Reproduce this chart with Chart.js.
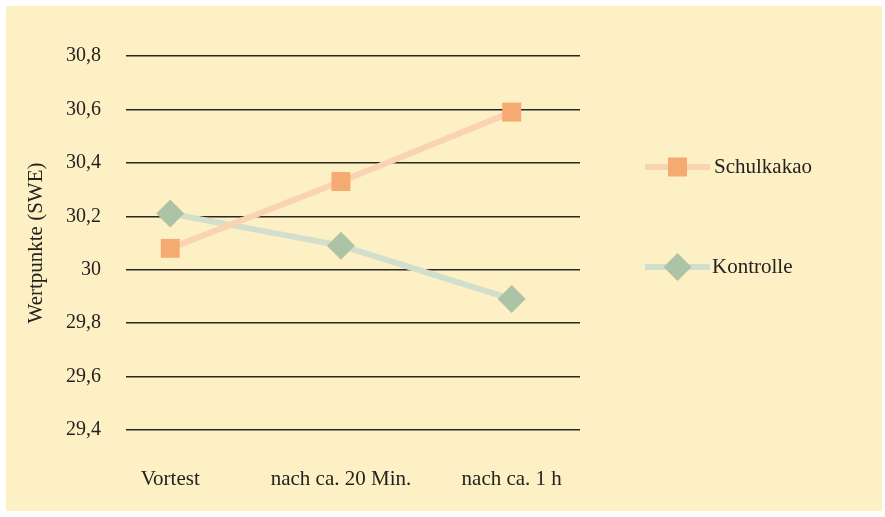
<!DOCTYPE html>
<html>
<head>
<meta charset="utf-8">
<script src="https://cdn.jsdelivr.net/npm/chart.js@4/dist/chart.umd.min.js"></script>
<style>
  html, body { margin: 0; padding: 0; background: #ffffff; }
  canvas { display: block; }
</style>
</head>
<body>
<canvas id="c" width="885" height="517"></canvas>
<script>
// Messzeitpunkte
const categories = ['Vortest', 'nach ca. 20 Min.', 'nach ca. 1 h'];
// Mittelwerte der Wertpunkte (SWE)
const schulkakao = [30.08, 30.33, 30.59];
const kontrolle = [30.21, 30.09, 29.89];
// Skala der y-Achse
const yTicks = [29.4, 29.6, 29.8, 30.0, 30.2, 30.4, 30.6, 30.8];

const FONT = '"Liberation Serif", "Times New Roman", serif';
const TEXT = '#242220';
const CREAM = '#fdf0c5';

const toPoints = arr => arr.map((v, i) => ({ x: i, y: v }));
const fmt = v => {
  const r = Math.round(v * 10) / 10;
  return String(r).replace('.', ',');
};

// Hintergrundfläche
const background = {
  id: 'background',
  beforeDraw(chart) {
    const ctx = chart.ctx;
    ctx.save();
    ctx.fillStyle = '#ffffff';
    ctx.fillRect(0, 0, chart.width, chart.height);
    ctx.fillStyle = CREAM;
    ctx.fillRect(6, 6, 876, 505);
    ctx.restore();
  }
};

// Legende rechts neben dem Diagramm
const sideLegend = {
  id: 'sideLegend',
  afterDraw(chart) {
    const ctx = chart.ctx;
    const rows = [167, 267];
    ctx.save();
    chart.data.datasets.forEach((ds, i) => {
      const y = rows[i];
      ctx.strokeStyle = ds.borderColor;
      ctx.lineWidth = ds.borderWidth;
      ctx.beginPath();
      ctx.moveTo(645, y);
      ctx.lineTo(710, y);
      ctx.stroke();
      ctx.fillStyle = ds.pointBackgroundColor;
      const cx = 677.5, r = ds.pointRadius;
      ctx.beginPath();
      if (ds.pointStyle === 'rect') {
        const s = Math.SQRT1_2 * r;
        ctx.rect(cx - s, y - s, 2 * s, 2 * s);
      } else {
        ctx.moveTo(cx - r, y);
        ctx.lineTo(cx, y - r);
        ctx.lineTo(cx + r, y);
        ctx.lineTo(cx, y + r);
        ctx.closePath();
      }
      ctx.fill();
      ctx.fillStyle = TEXT;
      ctx.font = '21px ' + FONT;
      ctx.textBaseline = 'middle';
      ctx.textAlign = 'left';
      ctx.fillText(ds.label, i === 0 ? 714 : 712, y);
    });
    ctx.restore();
  }
};

new Chart(document.getElementById('c'), {
  type: 'line',
  data: {
    datasets: [
      {
        label: 'Schulkakao',
        data: toPoints(schulkakao),
        borderColor: '#f9d3b2',
        borderWidth: 6,
        pointStyle: 'rect',
        pointRadius: 13.4,
        pointHoverRadius: 13.4,
        pointBackgroundColor: '#f4aa71',
        pointBorderWidth: 0,
        tension: 0
      },
      {
        label: 'Kontrolle',
        data: toPoints(kontrolle),
        borderColor: '#d2dfcd',
        borderWidth: 6,
        pointStyle: 'rectRot',
        pointRadius: 14,
        pointHoverRadius: 14,
        pointBackgroundColor: '#adc3a6',
        pointBorderWidth: 0,
        tension: 0
      }
    ]
  },
  options: {
    responsive: false,
    animation: false,
    devicePixelRatio: 1,
    layout: { padding: { top: 56, right: 305, bottom: 0, left: 0 } },
    plugins: {
      legend: { display: false },
      tooltip: { enabled: false }
    },
    scales: {
      x: {
        type: 'linear',
        min: -0.259,
        max: 2.4,
        afterBuildTicks: s => { s.ticks = categories.map((_, i) => ({ value: i })); },
        afterFit: s => { s.height = 87; },
        grid: { display: false, drawTicks: false },
        border: { display: false },
        ticks: {
          autoSkip: false,
          maxRotation: 0,
          padding: 37,
          color: TEXT,
          font: { family: FONT, size: 21 },
          callback: v => categories[v]
        }
      },
      y: {
        min: 29.4,
        max: 30.8,
        afterBuildTicks: s => { s.ticks = yTicks.map(v => ({ value: v })); },
        afterFit: s => { s.width = 126; },
        grid: { color: '#2a2826', lineWidth: 1.4, drawTicks: false },
        border: { display: false },
        ticks: {
          padding: 25,
          color: TEXT,
          font: { family: FONT, size: 20 },
          callback: v => fmt(v)
        },
        title: {
          display: true,
          text: 'Wertpunkte (SWE)',
          color: TEXT,
          font: { family: FONT, size: 21 },
          padding: { top: 24, bottom: 0 }
        }
      }
    }
  },
  plugins: [background, sideLegend]
});
</script>
</body>
</html>
